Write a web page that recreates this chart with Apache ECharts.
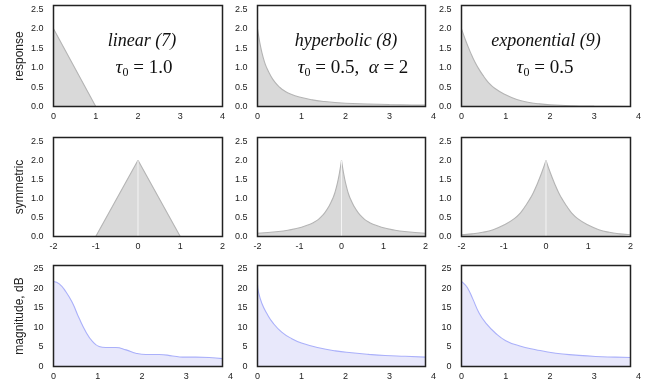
<!DOCTYPE html>
<html>
<head>
<meta charset="utf-8">
<script src="https://cdn.jsdelivr.net/npm/echarts@6/dist/echarts.min.js"></script>
<style>
html, body { margin: 0; padding: 0; background: #fff; }
#chart { width: 651px; height: 388px; }
</style>
</head>
<body>
<div id="chart"></div>
<script>
'use strict';

// row 1 - impulse responses (t, value)
var linT = [0, 1, 2, 4];
var linV = [2, 0, 0, 0];
var hypT = [0, 0.05, 0.1, 0.15, 0.2, 0.3, 0.4, 0.5, 0.6, 0.75, 1, 1.25, 1.5, 2, 2.5, 3, 3.5, 3.82];
var hypV = [2.0, 1.66, 1.39, 1.18, 1.02, 0.79, 0.62, 0.5, 0.41, 0.32, 0.23, 0.17, 0.13, 0.085, 0.065, 0.05, 0.04, 0.035];
var expT = [0, 0.1, 0.2, 0.3, 0.4, 0.5, 0.6, 0.75, 1, 1.25, 1.5, 1.75, 2, 2.5, 3, 3.82];
var expV = [2.0, 1.68, 1.40, 1.15, 0.95, 0.78, 0.63, 0.47, 0.30, 0.18, 0.11, 0.07, 0.045, 0.02, 0.01, 0.0];

// row 3 - magnitude, dB (f, value)
var magLinF = [0, 0.13, 0.28, 0.43, 0.58, 0.73, 0.88, 1.03, 1.18, 1.41, 1.64, 1.86, 2.09, 2.39, 2.69, 2.92, 3.22, 3.52, 3.82];
var magLinV = [21.7, 21.1, 19.1, 16.2, 12.3, 8.9, 6.4, 5.1, 4.85, 4.85, 4.25, 3.4, 3.06, 3.06, 2.7, 2.4, 2.4, 2.3, 2.0];
var magHypF = [0, 0.02, 0.1, 0.21, 0.36, 0.55, 0.78, 1.0, 1.39, 1.77, 2.14, 2.52, 2.9, 3.36, 3.82];
var magHypV = [20.9, 19.1, 16.1, 13.6, 11.0, 8.8, 7.1, 6.0, 4.8, 4.0, 3.5, 3.1, 2.8, 2.6, 2.4];
var magExpF = [0, 0.06, 0.14, 0.25, 0.4, 0.55, 0.77, 1.0, 1.3, 1.68, 2.13, 2.58, 3.03, 3.48, 3.82];
var magExpV = [21.7, 21.1, 20.0, 17.4, 13.6, 11.1, 8.5, 6.6, 5.3, 4.3, 3.4, 2.9, 2.55, 2.4, 2.3];

// tick labels
var respTicks = ['0.0', '0.5', '1.0', '1.5', '2.0', '2.5'];
var dbTicks = ['0', '5', '10', '15', '20', '25'];
var timeTicks = ['0', '1', '2', '3', '4'];
var symTicks = ['-2', '-1', '0', '1', '2'];

var rowNames = ['response', 'symmetric', 'magnitude, dB'];
var titles = ['linear (7)', 'hyperbolic (8)', 'exponential (9)'];
var params = [
  '{i|τ}{s|0}{n| = 1.0}',
  '{i|τ}{s|0}{n| = 0.5,  }{i|α}{n| = 2}',
  '{i|τ}{s|0}{n| = 0.5}'
];

// layout
var colLeft = [53.5, 257.5, 461.5],
    colWidth = [169, 168, 169],
    rowTop = [5.5, 137.5, 265.5],
    rowHeight = [101, 99, 101];
var boxMax = [[4, 3.82, 3.82], [2, 2, 2], [3.82, 3.82, 3.82]];
var rowMin = [0, -2, 0],
    rowLabelMax = [4, 2, 4],
    rowYMax = [2.6, 2.6, 25.8],
    rowYStep = [0.5, 0.5, 5];
var titlePos = [[142, 144], [346, 353], [546, 545]];

var gray = { line: '#b4b4b4', fill: '#d9d9d9' };
var blue = { line: '#aab0fa', fill: '#e8e8fb' };
var textColor = '#222';

var zip = function(xs, ys) {
  return xs.map(function(x, i) { return [x, ys[i]]; });
};
var mirror = function(xs, ys, lim) {
  var left = [], right = [];
  for (var i = 0; i < xs.length; i++) {
    if (xs[i] > lim) { break; }
    right.push([xs[i], ys[i]]);
    left.unshift([-xs[i], ys[i]]);
  }
  return [left, right];
};

var respData = [zip(linT, linV), zip(hypT, hypV), zip(expT, expV)];
var symData = [mirror(linT, linV, 2), mirror(hypT, hypV, 2), mirror(expT, expV, 2)];
var magData = [zip(magLinF, magLinV), zip(magHypF, magHypV), zip(magExpF, magExpV)];
var smoothRow1 = [false, 0.5, 0.5];

var grids = [], xAxes = [], yAxes = [], series = [], graphics = [];

var tickFormatter = function(list, digits) {
  return function(v) {
    var s = v.toFixed(digits);
    return list.indexOf(s) >= 0 ? s : '';
  };
};

var addSeries = function(g, data, col, smooth) {
  series.push({
    type: 'line',
    xAxisIndex: g,
    yAxisIndex: g,
    data: data,
    showSymbol: false,
    smooth: smooth,
    lineStyle: { color: col.line, width: 1.1 },
    areaStyle: { color: col.fill, opacity: 1 },
    animation: false,
    silent: true
  });
};

for (var r = 0; r < 3; r++) {
  for (var c = 0; c < 3; c++) {
    var g = grids.length;
    var xMax = boxMax[r][c];
    var w = colWidth[c];
    // framed box holding the curve
    grids.push({
      left: colLeft[c], top: rowTop[r], width: w, height: rowHeight[r],
      show: true, borderColor: textColor, borderWidth: 1.5,
      backgroundColor: 'transparent', z: 10
    });
    // invisible box carrying the x tick labels (may run past the frame)
    grids.push({
      left: colLeft[c], top: rowTop[r],
      width: w * (rowLabelMax[r] - rowMin[r]) / (xMax - rowMin[r]),
      height: rowHeight[r], show: false
    });
    xAxes.push({
      gridIndex: g, type: 'value', min: rowMin[r], max: xMax,
      axisLine: { show: false }, axisTick: { show: false },
      splitLine: { show: false }, axisLabel: { show: false }
    });
    xAxes.push({
      gridIndex: g + 1, type: 'value', min: rowMin[r], max: rowLabelMax[r], interval: 1,
      axisLine: { show: false }, axisTick: { show: false }, splitLine: { show: false },
      axisLabel: {
        fontSize: 9, color: textColor, fontFamily: 'Liberation Sans', margin: 6,
        formatter: tickFormatter(r === 1 ? symTicks : timeTicks, 0)
      }
    });
    yAxes.push({
      gridIndex: g, type: 'value', min: 0, max: rowYMax[r], interval: rowYStep[r],
      name: c === 0 ? rowNames[r] : '',
      nameLocation: 'middle', nameGap: 28,
      nameTextStyle: { fontSize: 12, fontFamily: 'Liberation Sans', color: textColor },
      axisLine: { show: false }, axisTick: { show: false }, splitLine: { show: false },
      axisLabel: {
        fontSize: 9, color: textColor, fontFamily: 'Liberation Sans', margin: 10,
        formatter: r === 2 ? tickFormatter(dbTicks, 0) : tickFormatter(respTicks, 1)
      }
    });
    yAxes.push({ gridIndex: g + 1, type: 'value', min: 0, max: rowYMax[r], show: false });

    if (r === 0) {
      addSeries(g, respData[c], gray, smoothRow1[c]);
    } else if (r === 1) {
      addSeries(g, symData[c][0], gray, c === 0 ? false : 0.5);
      addSeries(g, symData[c][1], gray, c === 0 ? false : 0.5);
      // thin light seam at the peak
      series.push({
        type: 'line', xAxisIndex: g, yAxisIndex: g,
        data: [[0, 0], symData[c][1][0]],
        showSymbol: false, lineStyle: { color: '#f4f4f4', width: 1 },
        animation: false, silent: true, z: 3
      });
    } else {
      addSeries(g, magData[c], blue, 0.5);
    }
  }
}

var serif = '"Liberation Serif", "Times New Roman", serif';
for (var k = 0; k < 3; k++) {
  graphics.push({
    type: 'text', x: titlePos[k][0], y: 41,
    style: {
      text: titles[k], font: 'italic 18px ' + serif, fill: '#111',
      textAlign: 'center', textVerticalAlign: 'middle'
    }
  });
  graphics.push({
    type: 'text', x: titlePos[k][1], y: 68,
    style: {
      text: params[k], fill: '#111',
      textAlign: 'center', textVerticalAlign: 'middle',
      rich: {
        i: { fontFamily: serif, fontSize: 19, fontStyle: 'italic', verticalAlign: 'middle' },
        s: { fontFamily: serif, fontSize: 12, verticalAlign: 'middle', padding: [10, 0, 0, 0] },
        n: { fontFamily: serif, fontSize: 19, verticalAlign: 'middle' }
      }
    }
  });
}

var chart = echarts.init(document.getElementById('chart'), null, { renderer: 'canvas' });
chart.setOption({
  animation: false,
  backgroundColor: '#fff',
  grid: grids,
  xAxis: xAxes,
  yAxis: yAxes,
  series: series,
  graphic: graphics
});
</script>
</body>
</html>
